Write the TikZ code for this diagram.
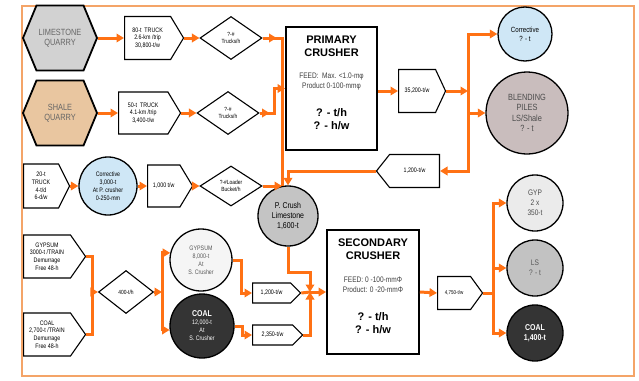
\documentclass[tikz,border=0pt]{standalone}
\usepackage{fontspec}
\setmainfont{Liberation Sans}
\newfontfamily\narrowsf{Liberation Sans}[FakeStretch=0.82]
\usetikzlibrary{arrows.meta,shapes.geometric,shapes.symbols}
\definecolor{flowc}{HTML}{FF7114}
\definecolor{framec}{HTML}{F4A468}
\definecolor{lsgray}{HTML}{D2D2D2}
\definecolor{shtan}{HTML}{E9C6A0}
\definecolor{corblue}{HTML}{CFE7F6}
\definecolor{blendc}{HTML}{C9BDBD}
\definecolor{pcrgray}{HTML}{C4C4C4}
\definecolor{darkpile}{HTML}{343434}
\begin{document}
\begin{tikzpicture}[x=1pt,y=-1pt,
  flow/.style={draw=flowc,line width=3pt},
  arr/.style={flow,-{Triangle[length=7.5pt,width=8.5pt]}},
  quarry/.style={signal,signal to=east and west,signal pointer angle=135,draw,line width=1.8pt,
    minimum width=74pt,minimum height=65pt,inner sep=0pt,align=center,text=black!60,
    font=\narrowsf\fontsize{9}{10}\selectfont},
  tag/.style={signal,signal to=east,signal pointer angle=118,draw,line width=1.1pt,fill=white,
    inner sep=0pt,align=center,font=\narrowsf\fontsize{6.5}{7.8}\selectfont},
  gate/.style={diamond,draw,line width=1.1pt,minimum width=62pt,minimum height=43pt,inner sep=0pt,
    align=center,font=\narrowsf\fontsize{6}{7.2}\selectfont},
  pile/.style={circle,draw,line width=1.3pt,inner sep=0pt,align=center,
    font=\narrowsf\fontsize{7.5}{9}\selectfont},
  crusher/.style={draw,line width=1.9pt,fill=white,minimum width=91pt,minimum height=123pt},
  title/.style={align=center,font=\fontsize{11}{13}\selectfont\bfseries},
  spec/.style={align=center,text=black!75,font=\narrowsf\fontsize{8}{10}\selectfont}]
\useasboundingbox (0,0) rectangle (639,380);
\draw[draw=framec,line width=1.2pt] (22,6) rectangle (634,376);

\node[quarry,fill=lsgray] (lq) at (60,38) {LIMESTONE\\QUARRY};
\node[quarry,fill=shtan] (sq) at (60,113) {SHALE\\QUARRY};
\node[tag,anchor=west,minimum width=59pt,minimum height=43pt] (t1) at (124,38) {80-t\ \ TRUCK\\2.6-km /trip\\30,800-t/w};
\node[tag,anchor=west,minimum width=62pt,minimum height=42pt] (t2) at (118,113) {50-t\ \ TRUCK\\4.1-km /trip\\3,400-t/w};
\node[gate] (d1) at (231,38) {?-\#\\Trucks/h};
\node[gate] (d2) at (228,113) {?-\#\\Trucks/h};

\node[crusher] (pc) at (331.5,88.5) {};
\node[title] (pct) at (331.5,46.5) {PRIMARY\\CRUSHER};
\node[spec] (pcs) at (331.5,82) {FEED:\ \ Max. <1.0-mφ\\Product 0-100-mmφ};
\node[title] (pcq) at (331.5,119) {? - t/h\\? - h/w};

\node[tag,anchor=west,signal pointer angle=130,minimum width=47pt,minimum height=43pt] (tw35) at (398,91) {35,200-t/w};
\node[pile,fill=corblue,minimum size=54pt] (cor1) at (525,34) {Corrective\\? - t};
\node[pile,fill=blendc,minimum size=82pt,text=black!70,font=\narrowsf\fontsize{9}{10.5}\selectfont] (blend) at (527,113) {BLENDING\\PILES\\LS/Shale\\? - t};
\node[tag,signal to=west,anchor=east,signal pointer angle=103,minimum width=63pt,minimum height=33pt] (tw12a) at (440,171) {1,200-t/w};

\node[tag,anchor=west,signal pointer angle=127,minimum width=46pt,minimum height=44pt] (tr20) at (23,186) {20-t\\TRUCK\\4-t/d\\6-d/w};
\node[pile,fill=corblue,minimum size=58pt,font=\narrowsf\fontsize{6.5}{7.8}\selectfont] (cor3) at (108,186) {Corrective\\3,000-t\\At P. crusher\\0-250-mm};
\node[tag,anchor=west,minimum width=45pt,minimum height=42pt] (tw10) at (147,186) {1,000 t/w};
\node[gate,minimum height=40pt] (d3) at (231,186) {?-\#Loader\\Bucket/h};
\node[pile,fill=pcrgray,minimum size=60pt,font=\narrowsf\fontsize{8.5}{10}\selectfont] (pcr) at (288,216) {P. Crush\\Limestone\\1,600-t};

\node[tag,anchor=west,signal pointer angle=110,minimum width=62pt,minimum height=43pt] (gyt) at (23,256.5) {GYPSUM\\3000-t /TRAIN\\Demurrage\\Free 48-h};
\node[tag,anchor=west,signal pointer angle=110,minimum width=62pt,minimum height=43pt] (cot) at (23,334.5) {COAL\\2,700-t /TRAIN\\Demurrage\\Free 48-h};
\node[gate,minimum width=55pt] (d4) at (126,292) {400-t/h};
\node[pile,fill=black!4,minimum size=62pt,text=black!65,font=\narrowsf\fontsize{6.5}{8}\selectfont] (gyc) at (201,260) {GYPSUM\\8,000-t\\At\\S. Crusher};
\node[pile,fill=darkpile,minimum size=64pt,text=white,font=\narrowsf\fontsize{6.5}{8}\selectfont] (coc) at (202,326) {{\fontsize{8.5}{9}\selectfont\bfseries COAL}\\12,000-t\\At\\S. Crusher};
\node[tag,anchor=west,signal pointer angle=90,minimum width=48pt,minimum height=20pt] (tw12b) at (252,293) {1,200-t/w};
\node[tag,anchor=west,signal pointer angle=90,minimum width=50pt,minimum height=20pt] (tw23) at (252,335) {2,350-t/w};

\node[crusher,minimum width=92pt,minimum height=124pt] (sc) at (373,292) {};
\node[title] (sct) at (373,249.5) {SECONDARY\\CRUSHER};
\node[spec] (scs) at (373,284.5) {FEED: 0 -100-mmΦ\\Product: 0 -20-mmΦ};
\node[title] (scq) at (373,323) {? - t/h\\? - h/w};

\node[tag,anchor=west,signal pointer angle=108,minimum width=45pt,minimum height=33pt,font=\narrowsf\fontsize{5.5}{7}\selectfont] (tw47) at (437,293) {4,750-t/w};
\node[pile,fill=black!8,minimum size=56pt,text=black!70,font=\narrowsf\fontsize{8}{10}\selectfont] (gyp) at (535,203) {GYP\\2 x\\350-t};
\node[pile,fill=black!24,minimum size=56pt,text=black!65,font=\narrowsf\fontsize{8}{10}\selectfont] (ls) at (535,268) {LS\\? - t};
\node[pile,fill=darkpile,minimum size=56pt,text=white,font=\narrowsf\fontsize{8.5}{10.5}\selectfont\bfseries] (co2) at (535,333) {COAL\\1,400-t};

\coordinate (j1) at (282,186);
\coordinate (j2) at (468,91);
\coordinate (j3) at (92,292);
\coordinate (j4) at (162,292);
\coordinate (j5) at (310,292);
\coordinate (j6) at (493,293);

\draw[arr] (lq.east) -- (t1.west);
\draw[arr] (sq.east) -- (t2.west);
\draw[arr] (t1.east) -- (d1.west);
\draw[arr] (t2.east) -- (d2.west);
\draw[flow] (d1.east) -| (j1);
\draw[arr] (d1.east) -- ++(14,0);
\draw[arr] (d2.east) -- ++(10,0);
\draw[arr] (d2.east) -- ++(15,0) |- (pc.west);
\draw[arr] (tr20.east) -- (cor3.west);
\draw[arr] (cor3.east) -- (tw10.west);
\draw[arr] (tw10.east) -- (d3.west);
\draw[arr] (d3.east) -- (j1);
\draw[arr] (pc.east |- tw35.west) -- (tw35.west);
\draw[arr] (tw35.east) -- (j2);
\draw[arr] (j2) |- (cor1.west);
\draw[arr] (j2) |- (blend.west);
\draw[arr] (j2) |- (tw12a.east);
\draw[arr] (tw12a.west) -| (pcr.north);
\draw[flow] (gyt.east) -| (j3);
\draw[flow] (cot.east) -| (j3);
\draw[arr] (j3) -- (d4.west);
\draw[arr] (d4.east) -- (j4);
\draw[arr] (j4) |- (gyc.167);
\draw[arr] (j4) |- (coc.187);
\draw[arr] (gyc.east) -- ++(9,0) |- (tw12b.west);
\draw[arr] (coc.east) -- ++(8,0) |- (tw23.west);
\draw[flow] (tw12b.east) -- (j5);
\draw[arr] (tw23.east) -| (j5);
\draw[arr] (pcr.south) -- ++(0,26) -| (j5);
\draw[arr] (j5) -- (sc.west);
\draw[arr] (sc.east) -- (tw47.west);
\draw[flow] (tw47.east) -- (j6);
\draw[arr] (j6) |- (gyp.west);
\draw[arr] (j6) |- (ls.west);
\draw[arr] (j6) |- (co2.west);
\end{tikzpicture}
\end{document}
